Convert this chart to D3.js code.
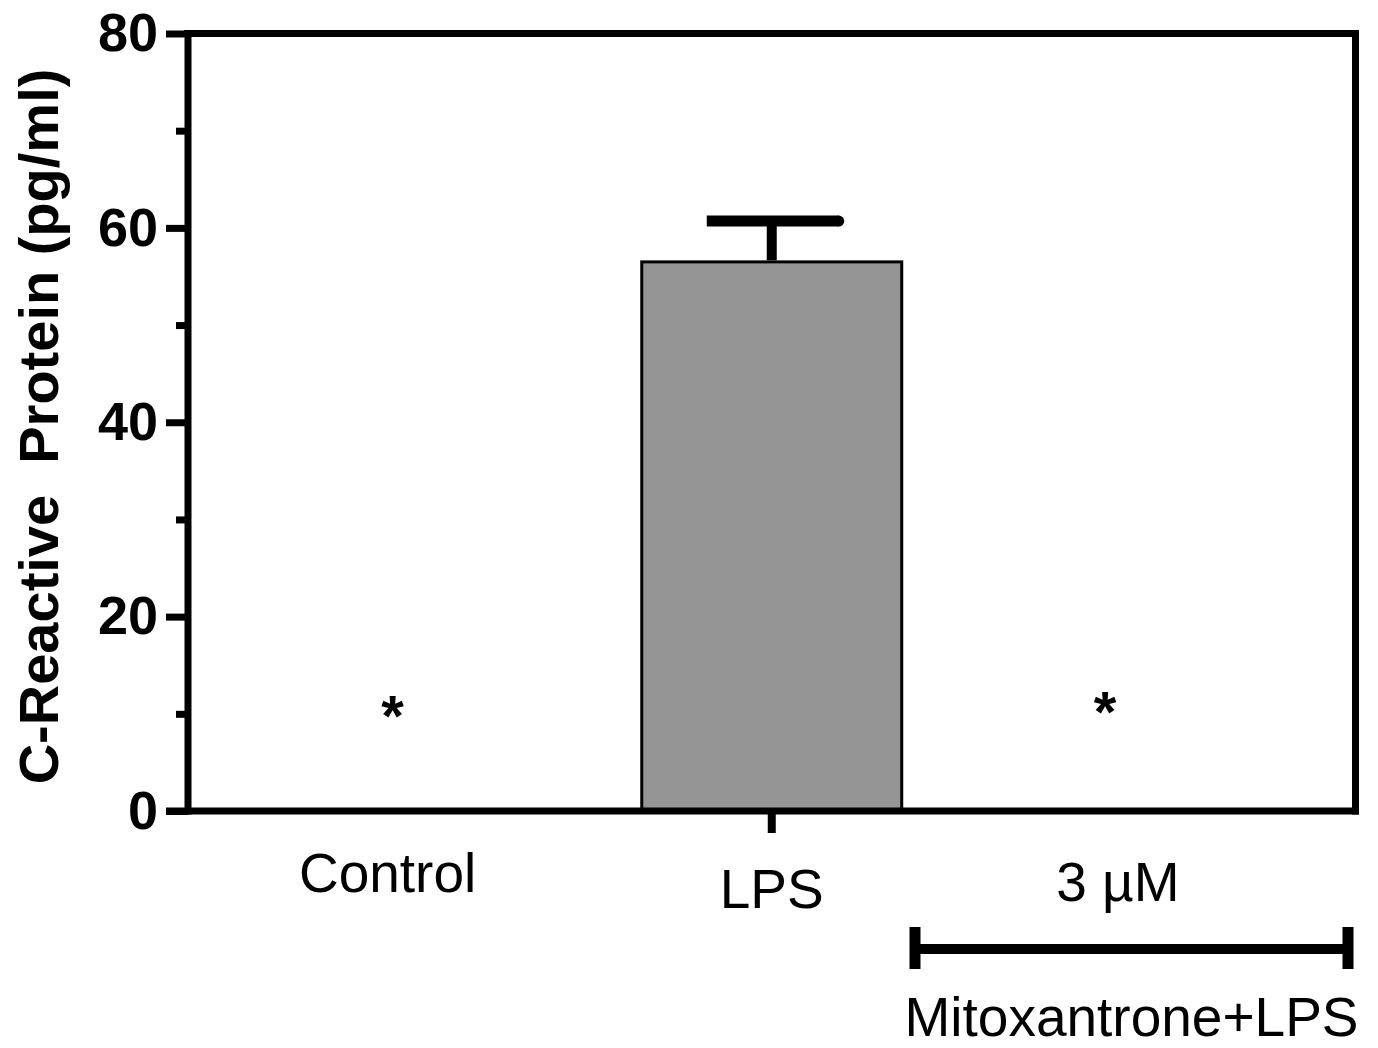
<!DOCTYPE html>
<html>
<head>
<meta charset="utf-8">
<script src="https://cdn.jsdelivr.net/npm/d3@7"></script>
<style>
  body { margin: 0; background: #fff; }
  svg text { font-family: "Liberation Sans", Arial, sans-serif; fill: #000; }
  .axis text { font-weight: bold; font-size: 54px; }
  .cat-label { font-size: 55px; }
</style>
</head>
<body>
<div id="chart"></div>
<script>
// data
const groups = ["Control", "LPS", "3 \u00b5M"];
const means = [0, 56.5, 0];
const errTop = [null, 60.7, null];
const starred = [true, false, true];
const starLevel = [10.2, null, 10.6];
const majorTicks = [0, 20, 40, 60, 80];
const minorTicks = [10, 30, 50, 70];
const yTitle = "C-Reactive\u00a0\u00a0Protein (pg/ml)";
const groupTitle = "Mitoxantrone+LPS";

const width = 1378, height = 1048;
const margin = { top: 33.5, right: 22.5, bottom: 237, left: 188 };
const lw = 7;

const svg = d3.select("#chart").append("svg")
  .attr("width", width)
  .attr("height", height);

const x = d3.scaleBand()
  .domain(groups)
  .range([margin.left, width - margin.right])
  .paddingInner(0.332)
  .paddingOuter(0.166);

const y = d3.scaleLinear()
  .domain([0, 80])
  .range([height - margin.bottom, margin.top]);

const cx = d => x(d) + x.bandwidth() / 2;

// bars
svg.selectAll("rect.bar")
  .data(groups.filter((g, i) => means[i] > 0))
  .join("rect")
  .attr("class", "bar")
  .attr("x", d => x(d))
  .attr("width", x.bandwidth())
  .attr("y", d => y(means[groups.indexOf(d)]))
  .attr("height", d => y(0) - y(means[groups.indexOf(d)]))
  .attr("fill", "#959595")
  .attr("stroke", "#000")
  .attr("stroke-width", 3);

// error bars (upper only)
const errG = svg.append("g");
groups.forEach((g, i) => {
  if (errTop[i] == null) return;
  errG.append("line")
    .attr("x1", cx(g)).attr("x2", cx(g))
    .attr("y1", y(means[i]) - 1.5).attr("y2", y(errTop[i]))
    .attr("stroke", "#000").attr("stroke-width", 10);
  errG.append("line")
    .attr("x1", cx(g) - x.bandwidth() * 0.25).attr("x2", cx(g) + x.bandwidth() * 0.25 + 2)
    .attr("y1", y(errTop[i])).attr("y2", y(errTop[i]))
    .attr("stroke", "#000").attr("stroke-width", 11);
  errG.append("circle")
    .attr("cx", cx(g) + x.bandwidth() * 0.25 + 2).attr("cy", y(errTop[i]))
    .attr("r", 5.5).attr("fill", "#000");
});

// frame (top and right)
svg.append("path")
  .attr("d", `M${margin.left},${y(80)}H${width - margin.right}V${y(0)}`)
  .attr("fill", "none")
  .attr("stroke", "#000")
  .attr("stroke-width", lw)
  .attr("stroke-linecap", "square");

// y axis
const yAxis = d3.axisLeft(y).tickValues(majorTicks).tickSize(22).tickSizeOuter(0).tickPadding(8);
const yMinor = d3.axisLeft(y).tickValues(minorTicks).tickSize(12).tickSizeOuter(0).tickFormat("");

svg.append("g")
  .attr("class", "axis y-axis")
  .attr("transform", `translate(${margin.left},0)`)
  .call(yAxis);
svg.append("g")
  .attr("class", "axis y-minor")
  .attr("transform", `translate(${margin.left},0)`)
  .call(yMinor)
  .call(g => g.select(".domain").remove());

// x axis (only LPS carries a tick)
const xAxis = d3.axisBottom(x).tickValues(["LPS"]).tickSize(22).tickSizeOuter(0).tickFormat("");
const gx = svg.append("g")
  .attr("class", "axis x-axis")
  .attr("transform", `translate(0,${y(0)})`)
  .call(xAxis);
gx.select(".domain").attr("d", `M${margin.left - 22},0H${width - margin.right + lw / 2}`);

svg.selectAll(".axis .domain, .axis line")
  .attr("stroke", "#000")
  .attr("stroke-width", lw);
svg.selectAll(".y-axis .domain")
  .attr("d", `M0,${y(0) + lw / 2}V${y(80) - lw / 2}`);
gx.selectAll(".tick line").attr("stroke-width", 8);

// category labels
const labelNudge = { "Control": 5, "LPS": 0, "3 \u00b5M": -43 };
const labelBase = { "Control": 892, "LPS": 908, "3 \u00b5M": 901 };
svg.selectAll("text.cat-label")
  .data(groups)
  .join("text")
  .attr("class", "cat-label")
  .attr("x", d => cx(d) + labelNudge[d])
  .attr("y", d => labelBase[d])
  .attr("text-anchor", "middle")
  .text(d => d);

// significance stars
const starNudge = [10, 0, -56];
svg.selectAll("text.star")
  .data(groups.filter((g, i) => starred[i]))
  .join("text")
  .attr("class", "star")
  .attr("x", d => cx(d) + starNudge[groups.indexOf(d)])
  .attr("y", d => y(starLevel[groups.indexOf(d)]))
  .attr("dy", "0.42em")
  .attr("text-anchor", "middle")
  .attr("font-weight", "bold")
  .attr("font-size", 58)
  .text("*");

// treatment bracket
const bx0 = 915, bx1 = 1348, by = 949;
svg.append("line")
  .attr("x1", bx0).attr("x2", bx1).attr("y1", by).attr("y2", by)
  .attr("stroke", "#000").attr("stroke-width", 10);
[bx0, bx1].forEach(bx => {
  svg.append("line")
    .attr("x1", bx).attr("x2", bx).attr("y1", by - 22).attr("y2", by + 20)
    .attr("stroke", "#000").attr("stroke-width", 11);
});
svg.append("text")
  .attr("class", "cat-label")
  .attr("x", (bx0 + bx1) / 2)
  .attr("y", 1036)
  .attr("text-anchor", "middle")
  .attr("font-size", 55)
  .text(groupTitle);

// y title
svg.append("text")
  .attr("transform", `translate(58,${(63 + 790) / 2}) rotate(-90)`)
  .attr("text-anchor", "middle")
  .attr("font-weight", "bold")
  .attr("font-size", 56)
  .text(yTitle);
</script>
</body>
</html>
